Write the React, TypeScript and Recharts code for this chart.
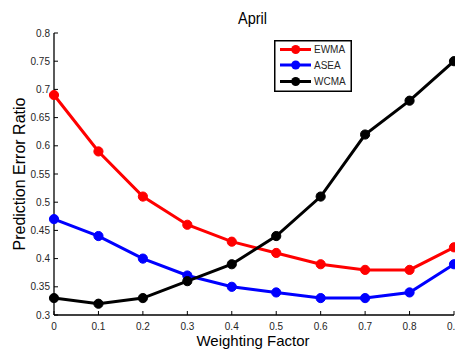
import React from 'react';
import { LineChart, Line, XAxis, YAxis } from 'recharts';

const factors = [0, 0.1, 0.2, 0.3, 0.4, 0.5, 0.6, 0.7, 0.8, 0.9];
const ewma = [0.69, 0.59, 0.51, 0.46, 0.43, 0.41, 0.39, 0.38, 0.38, 0.42];
const asea = [0.47, 0.44, 0.40, 0.37, 0.35, 0.34, 0.33, 0.33, 0.34, 0.39];
const wcma = [0.33, 0.32, 0.33, 0.36, 0.39, 0.44, 0.51, 0.62, 0.68, 0.75];
const xTicks = [0, 0.1, 0.2, 0.3, 0.4, 0.5, 0.6, 0.7, 0.8, 0.9];
const yTicks = [0.3, 0.35, 0.4, 0.45, 0.5, 0.55, 0.6, 0.65, 0.7, 0.75, 0.8];

const seriesInfo = [
  { key: 'EWMA', color: '#ff0000' },
  { key: 'ASEA', color: '#0000ff' },
  { key: 'WCMA', color: '#000000' },
];

const data = factors.map((f, i) => ({ f, EWMA: ewma[i], ASEA: asea[i], WCMA: wcma[i] }));

const FONT = 'Liberation Sans, Arial, sans-serif';
const TICK_COLOR = '#262626';

const BottomTick = (props: any) => {
  const { x, y, payload } = props;
  return (
    <g>
      <line x1={x} y1={y} x2={x} y2={y - 4} stroke="#000" strokeWidth={1} />
      <text x={x} y={y + 15} textAnchor="middle" fontSize={10} fill={TICK_COLOR} fontFamily={FONT}>
        {String(payload.value)}
      </text>
    </g>
  );
};

const TopTick = (props: any) => {
  const { x, y } = props;
  return <line x1={x} y1={y} x2={x} y2={y + 4} stroke="#000" strokeWidth={1} />;
};

const LeftTick = (props: any) => {
  const { x, y, payload } = props;
  return (
    <g>
      <line x1={x} y1={y} x2={x + 4} y2={y} stroke="#000" strokeWidth={1} />
      <text x={x - 4} y={y + 3.6} textAnchor="end" fontSize={10} fill={TICK_COLOR} fontFamily={FONT}>
        {String(Math.round(payload.value * 100) / 100)}
      </text>
    </g>
  );
};

const RightTick = (props: any) => {
  const { x, y } = props;
  return <line x1={x} y1={y} x2={x - 4} y2={y} stroke="#000" strokeWidth={1} />;
};

const legendRows = [9.5, 25, 41.5];

const LegendBox = () => (
  <svg width={78} height={52}>
    <rect x={0.75} y={0.75} width={76.5} height={50.5} fill="#fff" stroke="#000" strokeWidth={1.5} />
    {seriesInfo.map((s, i) => (
      <g key={s.key}>
        <line x1={6} y1={legendRows[i]} x2={37} y2={legendRows[i]} stroke={s.color} strokeWidth={3} />
        <circle cx={21.7} cy={legendRows[i]} r={4.5} fill={s.color} />
        <text x={40} y={legendRows[i] + 3.6} fontSize={10} fill={TICK_COLOR} fontFamily={FONT}>
          {s.key}
        </text>
      </g>
    ))}
  </svg>
);

export default function App() {
  return (
    <div style={{ position: 'absolute', left: 0, top: 0, width: 455, height: 349, background: '#fff', overflow: 'hidden' }}>
      <div style={{ position: 'absolute', left: 0, top: 0 }}>
        <LineChart width={455} height={349} data={data} margin={{ top: 33, right: 1, bottom: 0, left: 0 }}>
          <XAxis
            xAxisId="b"
            dataKey="f"
            type="number"
            domain={[0, 0.9]}
            ticks={xTicks}
            tickSize={0}
            tickMargin={0}
            tickLine={false}
            tick={<BottomTick />}
            axisLine={{ stroke: '#000', strokeWidth: 1.3 }}
            height={34}
            interval={0}
          />
          <XAxis
            xAxisId="t"
            orientation="top"
            dataKey="f"
            type="number"
            domain={[0, 0.9]}
            ticks={xTicks}
            tickSize={0}
            tickMargin={0}
            tickLine={false}
            tick={<TopTick />}
            axisLine={{ stroke: '#000', strokeWidth: 1.3 }}
            height={0}
            interval={0}
          />
          <YAxis
            yAxisId="l"
            domain={[0.3, 0.8]}
            ticks={yTicks}
            tickSize={0}
            tickMargin={0}
            tickLine={false}
            tick={<LeftTick />}
            axisLine={{ stroke: '#000', strokeWidth: 1.3 }}
            width={54}
            interval={0}
          />
          <YAxis
            yAxisId="r"
            orientation="right"
            domain={[0.3, 0.8]}
            ticks={yTicks}
            tickSize={0}
            tickMargin={0}
            tickLine={false}
            tick={<RightTick />}
            axisLine={{ stroke: '#000', strokeWidth: 1.3 }}
            width={0}
            interval={0}
          />
          {seriesInfo.map((s) => (
            <Line
              key={s.key}
              xAxisId="b"
              yAxisId="l"
              dataKey={s.key}
              stroke={s.color}
              strokeWidth={3}
              dot={{ r: 4.6, fill: s.color, stroke: s.color, strokeWidth: 1 }}
              activeDot={false}
              isAnimationActive={false}
            />
          ))}
        </LineChart>
      </div>
      <div style={{ position: 'absolute', left: 274, top: 40 }}>
        <LegendBox />
      </div>
      <div
        style={{
          position: 'absolute',
          left: 0,
          width: 505,
          top: 10,
          textAlign: 'center',
          fontFamily: FONT,
          fontSize: 14.5,
          lineHeight: '17px',
          color: '#000',
          transform: 'scaleY(1.2)',
        }}
      >
        April
      </div>
      <div
        style={{
          position: 'absolute',
          left: 0,
          width: 506,
          top: 332,
          textAlign: 'center',
          fontFamily: FONT,
          fontSize: 15,
          color: '#000',
        }}
      >
        Weighting Factor
      </div>
      <div
        style={{
          position: 'absolute',
          left: 19.5,
          top: 174,
          transform: 'translate(-50%, -50%) rotate(-90deg)',
          whiteSpace: 'nowrap',
          fontFamily: FONT,
          fontSize: 16,
          color: '#000',
        }}
      >
        Prediction Error Ratio
      </div>
    </div>
  );
}
